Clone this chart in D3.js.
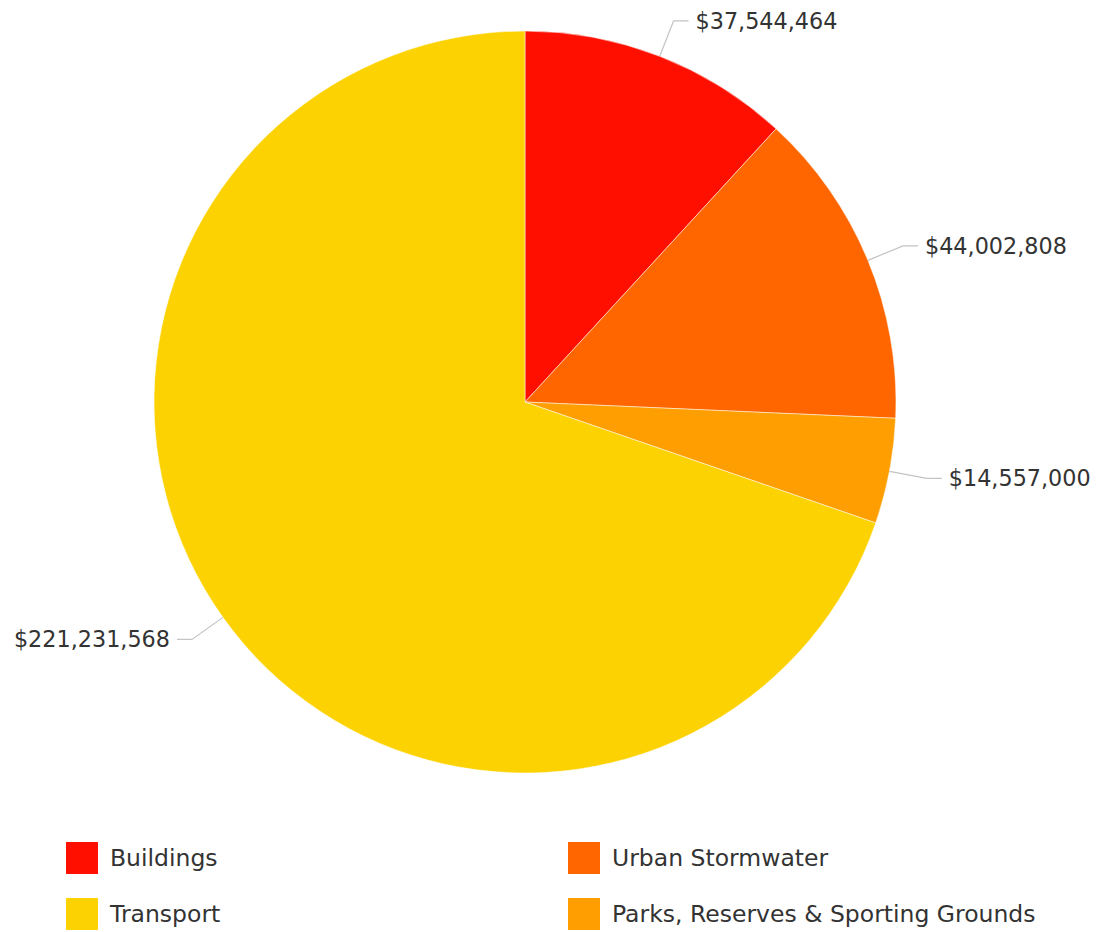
<!DOCTYPE html>
<html>
<head>
<meta charset="utf-8">
<script src="https://cdn.jsdelivr.net/npm/d3@7"></script>
<style>
  html, body { margin: 0; padding: 0; background: #ffffff; }
  svg { display: block; }
  text { font-family: "DejaVu Sans", Verdana, sans-serif; fill: #333333; }
</style>
</head>
<body>
<svg id="chart" width="1097" height="932"></svg>
<script>
// Capital expenditure by asset class
const categories = ["Buildings", "Urban Stormwater", "Parks, Reserves & Sporting Grounds", "Transport"];
const values = [37544464, 44002808, 14557000, 221231568];
const colors = ["#FF0F00", "#FF6600", "#FF9E01", "#FCD202"];
// Legend layout order (two columns)
const legendOrder = ["Buildings", "Urban Stormwater", "Transport", "Parks, Reserves & Sporting Grounds"];

const data = categories.map((c, i) => ({ category: c, value: values[i], color: colors[i] }));

const svg = d3.select("#chart");
const cx = 525, cy = 402, radius = 371;
const fmt = v => "$" + d3.format(",")(v);

const pie = d3.pie().value(d => d.value).sort(null);
const arcs = pie(data);
const arc = d3.arc().innerRadius(0).outerRadius(radius);

const g = svg.append("g").attr("transform", `translate(${cx},${cy})`);

g.selectAll("path.slice")
  .data(arcs)
  .enter().append("path")
  .attr("class", "slice")
  .attr("d", arc)
  .attr("fill", d => d.data.color)
  .attr("stroke", "#ffffff")
  .attr("stroke-opacity", 0.5)
  .attr("stroke-width", 1);

// Leader lines and value labels
const lineRadius = radius + 38;
const hLen = 15, gap = 7;
arcs.forEach(d => {
  const a = (d.startAngle + d.endAngle) / 2;
  const sx = Math.sin(a), sy = -Math.cos(a);
  const p0 = [sx * radius, sy * radius];
  const p1 = [sx * lineRadius, sy * lineRadius];
  const right = sx >= 0;
  const p2 = [p1[0] + (right ? hLen : -hLen), p1[1]];
  g.append("polyline")
    .attr("points", [p0, p1, p2].map(p => p.join(",")).join(" "))
    .attr("fill", "none")
    .attr("stroke", "#c4c4c4")
    .attr("stroke-width", 1.2);
  g.append("text")
    .attr("x", p2[0] + (right ? gap : -gap))
    .attr("y", p2[1])
    .attr("dy", "0.36em")
    .attr("text-anchor", right ? "start" : "end")
    .attr("font-size", 22.3)
    .text(fmt(d.data.value));
});

// Legend
const legend = svg.append("g");
const colX = [66, 568], rowY = [842, 898], sw = 32;
legendOrder.forEach((name, i) => {
  const d = data.find(e => e.category === name);
  const x = colX[i % 2], y = rowY[Math.floor(i / 2)];
  legend.append("rect")
    .attr("x", x).attr("y", y)
    .attr("width", sw).attr("height", sw)
    .attr("fill", d.color);
  legend.append("text")
    .attr("x", x + sw + 12)
    .attr("y", y + sw / 2)
    .attr("dy", "0.36em")
    .attr("font-size", 23.5)
    .text(name);
});
</script>
</body>
</html>
